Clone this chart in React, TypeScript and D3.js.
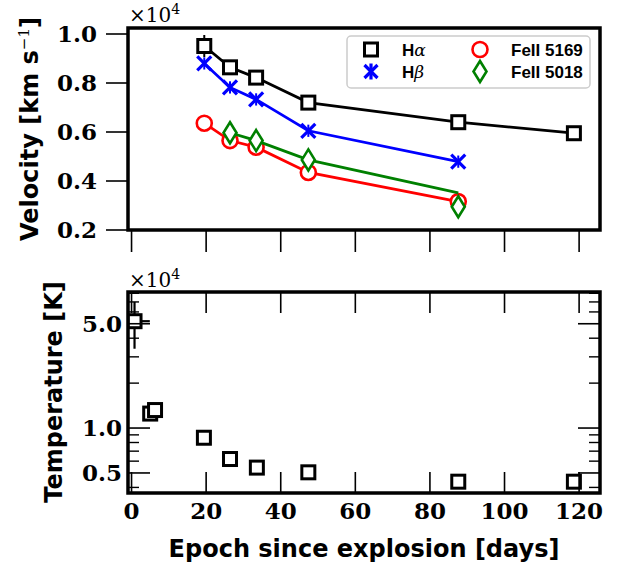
import React from "react";
import * as d3 from "d3";

// ---------- data ----------
const haDays = [19.5, 26.4, 33.4, 47.4, 87.6, 118.6];
const haVel = [0.951, 0.864, 0.822, 0.72, 0.64, 0.595];
const haErr = [0.045, 0.02, 0.02, 0.02, 0.02, 0.02];

const hbDays = [19.5, 26.4, 33.4, 47.4, 87.6];
const hbVel = [0.88, 0.782, 0.733, 0.605, 0.479];
const hbErr = [0.025, 0.025, 0.025, 0.025, 0.025];

const fe5169Days = [19.5, 26.4, 33.4, 47.4, 87.6];
const fe5169Vel = [0.636, 0.565, 0.538, 0.435, 0.316];

const fe5018Days = [26.4, 33.4, 47.4, 87.6];
const fe5018Vel = [0.597, 0.565, 0.486, 0.295];
const fe5018LineVel = [0.597, 0.565, 0.486, 0.352];

const tempDays = [0.8, 5.0, 6.3, 19.4, 26.4, 33.6, 47.4, 87.6, 118.6];
const tempVal = [5.2, 1.25, 1.32, 0.861, 0.62, 0.543, 0.505, 0.437, 0.437];
const tempErr = [1.8, 0, 0, 0, 0, 0, 0, 0, 0];
const tempDayErr = [4.1, 0, 0, 0, 0, 0, 0, 0, 0];

const xTicks = [0, 20, 40, 60, 80, 100, 120];
const velTicks = [0.2, 0.4, 0.6, 0.8, 1.0];
const tempMajor = [0.5, 1.0, 5.0];
const tempMinor = [0.4, 0.6, 0.7, 0.8, 0.9, 2, 3, 4, 6, 7, 8];

// ---------- layout ----------
const W = 619;
const H = 571;
const L = 128;
const R = 600;
const topT = 28;
const topB = 230;
const botT = 292;
const botB = 493;

const x = d3.scaleLinear().domain([-0.95, 125.6]).range([L, R]);
const yV = d3.scaleLinear().domain([0.2, 1.0245]).range([topB, topT]);
const yT = d3.scaleLog().domain([0.367, 8.16]).range([botB, botT]);

const serifTick = "'DejaVu Serif', serif";
const sansLabel = "'DejaVu Sans', sans-serif";

const Square = ({ cx, cy, s = 13, sw = 3 }: any) => (
  <rect x={cx - s / 2} y={cy - s / 2} width={s} height={s} fill="white" stroke="black" strokeWidth={sw} />
);
const XMark = ({ cx, cy, r = 7, vbar = 0 }: any) => (
  <g stroke="#0000ff" strokeWidth={3.2}>
    <line x1={cx - r} y1={cy - r} x2={cx + r} y2={cy + r} />
    <line x1={cx - r} y1={cy + r} x2={cx + r} y2={cy - r} />
    {vbar > 0 && <line x1={cx} y1={cy - vbar} x2={cx} y2={cy + vbar} />}
  </g>
);
const Circ = ({ cx, cy }: any) => (
  <circle cx={cx} cy={cy} r={7.5} fill="white" stroke="#ff0000" strokeWidth={2.6} />
);
const Diam = ({ cx, cy }: any) => (
  <path
    d={`M${cx},${cy - 10.5}L${cx + 6.5},${cy}L${cx},${cy + 10.5}L${cx - 6.5},${cy}Z`}
    fill="white"
    stroke="#008000"
    strokeWidth={2.6}
  />
);

export default function App() {
  const line = (days: number[], vals: number[]) =>
    d3
      .line<number>()
      .x((_, i) => x(days[i]))
      .y((v) => yV(v))(vals) as string;

  return (
    <svg width={W} height={H} style={{ display: "block", position: "absolute", left: 0, top: 0 }}>
      <defs>
        <clipPath id="clipTop">
          <rect x={L} y={topT} width={R - L} height={topB - topT} />
        </clipPath>
        <clipPath id="clipBot">
          <rect x={L} y={botT} width={R - L} height={botB - botT} />
        </clipPath>
      </defs>
      <rect width={W} height={H} fill="white" />

      {/* ===== top panel ===== */}
      <g clipPath="url(#clipTop)">
        {/* H alpha */}
        <path d={line(haDays, haVel)} fill="none" stroke="black" strokeWidth={2.8} />
        {haDays.map((d, i) => (
          <line key={"hae" + i} x1={x(d)} x2={x(d)} y1={yV(haVel[i] + haErr[i])} y2={yV(haVel[i] - haErr[i])} stroke="black" strokeWidth={2} />
        ))}
        {haDays.map((d, i) => (
          <Square key={"ha" + i} cx={x(d)} cy={yV(haVel[i])} />
        ))}
        {/* H beta */}
        <path d={line(hbDays, hbVel)} fill="none" stroke="#0000ff" strokeWidth={2.8} />
        {hbDays.map((d, i) => (
          <line key={"hbe" + i} x1={x(d)} x2={x(d)} y1={yV(hbVel[i] + hbErr[i])} y2={yV(hbVel[i] - hbErr[i])} stroke="#0000ff" strokeWidth={2} />
        ))}
        {hbDays.map((d, i) => (
          <XMark key={"hb" + i} cx={x(d)} cy={yV(hbVel[i])} />
        ))}
        {/* FeII 5169 */}
        <path d={line(fe5169Days, fe5169Vel)} fill="none" stroke="#ff0000" strokeWidth={2.8} />
        {fe5169Days.map((d, i) => (
          <Circ key={"f1" + i} cx={x(d)} cy={yV(fe5169Vel[i])} />
        ))}
        {/* FeII 5018 */}
        <path d={line(fe5018Days, fe5018LineVel)} fill="none" stroke="#008000" strokeWidth={2.8} />
        {fe5018Days.map((d, i) => (
          <Diam key={"f2" + i} cx={x(d)} cy={yV(fe5018Vel[i])} />
        ))}
      </g>

      {/* legend */}
      <g>
        <rect x={347} y={36} width={243} height={52} rx={4} fill="white" fillOpacity={0.85} stroke="#cccccc" strokeWidth={1.5} />
        <Square cx={371} cy={49.5} />
        <XMark cx={371} cy={71.5} r={6.5} vbar={8} />
        <Circ cx={480} cy={49.5} />
        <Diam cx={480} cy={71.5} />
        <g fontFamily="'Liberation Sans', Arial, sans-serif" fontWeight="bold" fontSize={17} fill="black">
          <text x={402} y={55.5}>
            H<tspan fontFamily="'DejaVu Serif', serif" fontStyle="italic" fontWeight="normal">α</tspan>
          </text>
          <text x={402} y={77.5}>
            H<tspan fontFamily="'DejaVu Serif', serif" fontStyle="italic" fontWeight="normal">β</tspan>
          </text>
          <text x={511} y={55.5}>FeII 5169</text>
          <text x={511} y={77.5}>FeII 5018</text>
        </g>
      </g>

      {/* top axes ticks */}
      {velTicks.map((t) => (
        <g key={"vt" + t}>
          <line x1={L - 22} x2={L} y1={yV(t)} y2={yV(t)} stroke="black" strokeWidth={1.6} />
          <text x={97} y={yV(t)} dy="0.36em" textAnchor="end" fontFamily={serifTick} fontWeight="bold" fontSize={23}>
            {t.toFixed(1)}
          </text>
        </g>
      ))}
      {xTicks.map((t) => (
        <line key={"xt" + t} x1={x(t)} x2={x(t)} y1={topB} y2={topB + 22} stroke="black" strokeWidth={1.6} />
      ))}
      <rect x={L} y={topT} width={R - L} height={topB - topT} fill="none" stroke="black" strokeWidth={3.5} />
      <text x={129} y={22} fontFamily={serifTick} fontSize={20}>
        ×10<tspan dy={-8} fontSize={14}>4</tspan>
      </text>
      <text
        transform={`translate(38,129) rotate(-90)`}
        textAnchor="middle"
        fontFamily={sansLabel}
        fontWeight="bold"
        fontSize={24}
      >
        Velocity [km s<tspan dy={-9} fontSize={15} fontFamily="'DejaVu Serif', serif" fontWeight="normal">−1</tspan>
        <tspan dy={9}>]</tspan>
      </text>

      {/* ===== bottom panel ===== */}
      <g clipPath="url(#clipBot)">
        {tempDays.map((d, i) =>
          tempErr[i] > 0 ? (
            <g key={"te" + i} stroke="black" strokeWidth={2.2}>
              <line x1={x(d)} x2={x(d)} y1={yT(tempVal[i] + tempErr[i])} y2={yT(tempVal[i] - tempErr[i])} />
              <line x1={x(d - tempDayErr[i])} x2={x(d + tempDayErr[i])} y1={yT(tempVal[i])} y2={yT(tempVal[i])} />
            </g>
          ) : null
        )}
        {tempDays.map((d, i) => (
          <Square key={"tp" + i} cx={x(d)} cy={yT(tempVal[i])} />
        ))}
      </g>
      {xTicks.map((t) => (
        <g key={"bx" + t}>
          <line x1={x(t)} x2={x(t)} y1={botB} y2={botB - 21} stroke="black" strokeWidth={1.6} />
          <line x1={x(t)} x2={x(t)} y1={botT} y2={botT + 21} stroke="black" strokeWidth={1.6} />
          <text x={x(t)} y={519} textAnchor="middle" fontFamily={serifTick} fontWeight="bold" fontSize={23}>
            {t}
          </text>
        </g>
      ))}
      {tempMajor.map((t) => (
        <g key={"tm" + t}>
          <line x1={L} x2={L + 22} y1={yT(t)} y2={yT(t)} stroke="black" strokeWidth={1.6} />
          <line x1={R - 22} x2={R} y1={yT(t)} y2={yT(t)} stroke="black" strokeWidth={1.6} />
          <text x={122} y={yT(t)} dy="0.36em" textAnchor="end" fontFamily={serifTick} fontWeight="bold" fontSize={23}>
            {t.toFixed(1)}
          </text>
        </g>
      ))}
      {tempMinor.map((t) => (
        <g key={"tn" + t}>
          <line x1={L} x2={L + 11} y1={yT(t)} y2={yT(t)} stroke="black" strokeWidth={1.4} />
          <line x1={R - 11} x2={R} y1={yT(t)} y2={yT(t)} stroke="black" strokeWidth={1.4} />
        </g>
      ))}
      <rect x={L} y={botT} width={R - L} height={botB - botT} fill="none" stroke="black" strokeWidth={3.5} />
      <text x={129} y={287} fontFamily={serifTick} fontSize={20}>
        ×10<tspan dy={-8} fontSize={14}>4</tspan>
      </text>
      <text
        transform={`translate(62,392) rotate(-90)`}
        textAnchor="middle"
        fontFamily={sansLabel}
        fontWeight="bold"
        fontSize={24}
      >
        Temperature [K]
      </text>
      <text x={364} y={557} textAnchor="middle" fontFamily={sansLabel} fontWeight="bold" fontSize={24}>
        Epoch since explosion [days]
      </text>
    </svg>
  );
}
